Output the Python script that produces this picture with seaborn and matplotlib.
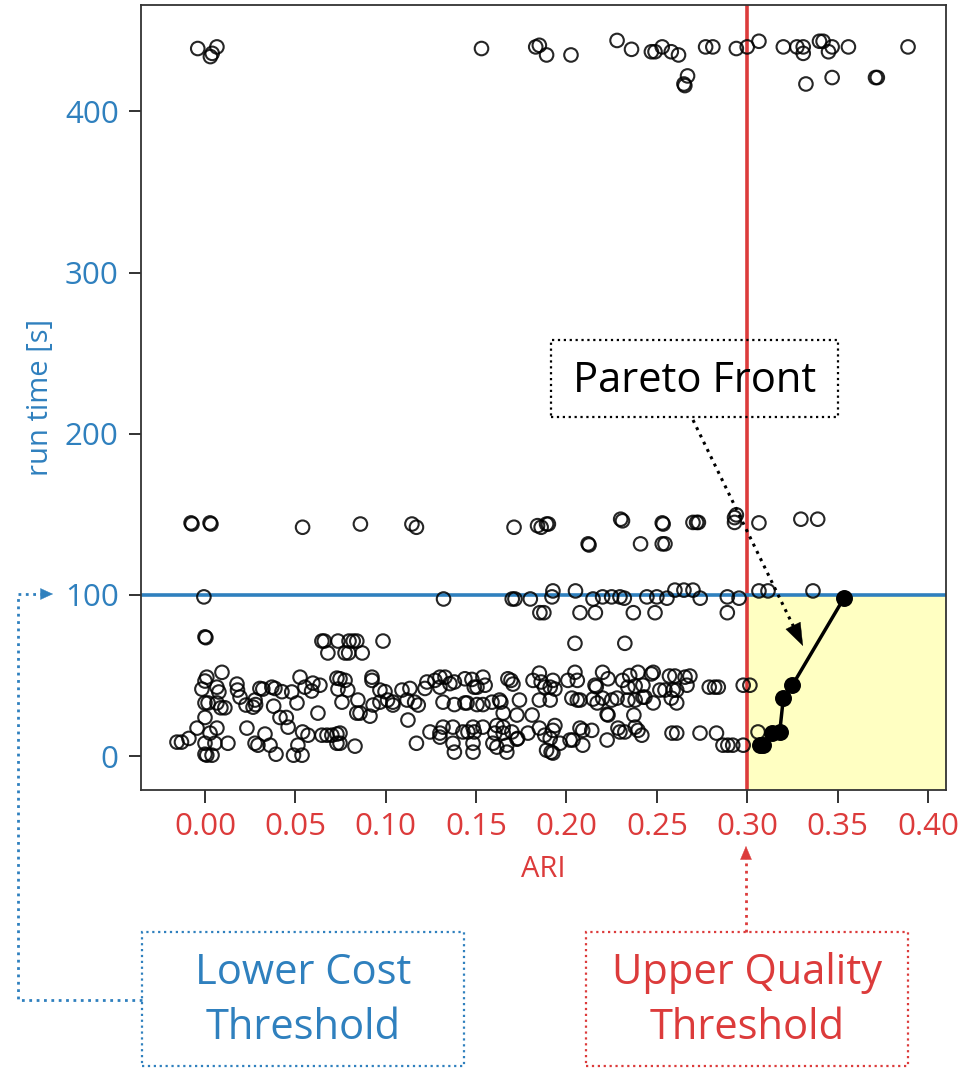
import numpy as np
import matplotlib
matplotlib.use("Agg")
import matplotlib.pyplot as plt
from matplotlib.patches import Rectangle, FancyArrowPatch
from matplotlib.lines import Line2D
import seaborn as sns

# ---------------- data ----------------
ari_top = [-0.004, 0.0066, 0.003, 0.004, 0.153, 0.183, 0.185, 0.189, 0.2025, 0.228, 0.236, 0.247, 0.249,
           0.253, 0.258, 0.262, 0.267, 0.265, 0.2655, 0.277, 0.281, 0.294, 0.300, 0.3065, 0.320, 0.3275,
           0.331, 0.331, 0.3325, 0.340, 0.342, 0.347, 0.345, 0.347, 0.356, 0.371, 0.372, 0.389]
rt_top = [439, 440, 434, 436, 439, 440, 441, 435, 435, 444, 438.5, 437, 437,
          440, 437, 435, 422, 417, 416, 440, 440, 439, 440, 443.5, 440, 440,
          440, 436, 417, 443.5, 443.5, 440, 437, 421, 440, 421, 421, 440]

ari_mid = [-0.0077, -0.0072, 0.0028, 0.0033, 0.054, 0.086, 0.1145, 0.117, 0.171, 0.184, 0.186, 0.189, 0.190,
           0.230, 0.231, 0.253, 0.2535, 0.270, 0.272, 0.273, 0.293, 0.293, 0.294, 0.3065, 0.3297, 0.339,
           0.212, 0.2125, 0.241, 0.253, 0.2545,
           -0.0006, 0.132, 0.170, 0.1715, 0.180, 0.1925, 0.192, 0.205, 0.2147, 0.220, 0.225, 0.2296, 0.232,
           0.2445, 0.250, 0.2556, 0.260, 0.265, 0.270, 0.274, 0.289, 0.2955, 0.3065, 0.3115, 0.3364,
           0.1853, 0.1875, 0.2075, 0.216, 0.237, 0.249, 0.289,
           0.0, 0.0005, 0.0647, 0.066, 0.0736, 0.0797, 0.082, 0.084, 0.0985,
           0.068, 0.0775, 0.0795, 0.087, 0.2047, 0.2323]
rt_mid = [144.7, 144, 144.7, 144, 142, 144, 144, 142, 142, 143, 142, 144, 144,
          147, 146, 144.7, 144, 145, 145, 145, 148, 145, 149.7, 144.7, 147, 147,
          131.7, 131, 131.7, 131.7, 131.7,
          98.8, 97.5, 97.5, 97.5, 97.5, 102.5, 98.8, 102.5, 97.5, 98.8, 98.8, 98.8, 98,
          98.8, 98.8, 98, 103, 103, 103, 98, 98.8, 98, 102.5, 102.5, 102.5,
          89, 89, 89, 89, 89, 89, 89,
          74, 73.5, 71.4, 71.4, 71.4, 71.4, 71.4, 71.4, 71.4,
          64, 64, 64, 64, 70, 70]

ari_low = [0.0094, 0.001, 0.0, -0.0017, 0.0066, 0.0077, 0.0, 0.0017, 0.0066, 0.0088, 0.011, 0.0, -0.0044,
           0.0028, 0.0066, -0.0155, -0.013, -0.0089, 0.0, 0.0055, 0.0127, 0.0, 0.0039, 0.001,
           0.0177, 0.018, 0.0194, 0.0227, 0.0277, 0.0266, 0.028,
           0.0232, 0.0277, 0.0293, 0.0332, 0.036, 0.0393,
           0.0304, 0.032, 0.037, 0.0387, 0.0426, 0.048, 0.0509, 0.0526, 0.0553, 0.0597, 0.059, 0.0636,
           0.0625, 0.038, 0.0415, 0.045, 0.046,
           0.0514, 0.0537, 0.049,
           0.054, 0.057, 0.0647, 0.0675, 0.0702, 0.073, 0.073, 0.073, 0.0736,
           0.0747, 0.0775, 0.079, 0.0758, 0.0846, 0.084, 0.0858, 0.0913, 0.0924, 0.0924, 0.0968, 0.0996,
           0.093, 0.0968, 0.101, 0.104, 0.104, 0.109, 0.1134, 0.1118, 0.116, 0.118, 0.1123, 0.117, 0.083,
           0.0747, 0.0747,
           0.1228, 0.1217, 0.1272, 0.130, 0.1328, 0.130, 0.1355, 0.138, 0.1317, 0.138, 0.1438, 0.1477,
           0.149, 0.1505, 0.1538, 0.155, 0.1438, 0.145, 0.1505, 0.1538, 0.1588, 0.163, 0.1637, 0.174,
           0.1676, 0.1693, 0.1704, 0.1815,
           0.165, 0.1726, 0.181,
           0.1245, 0.130, 0.130, 0.1317, 0.1372, 0.1427, 0.1455, 0.1483, 0.1538, 0.149, 0.1615, 0.165,
           0.1604, 0.165, 0.1698, 0.1726, 0.1787, 0.138, 0.1372, 0.1483, 0.1483, 0.1593, 0.1615, 0.167,
           0.167, 0.173,
           0.185, 0.186, 0.1925, 0.191, 0.1936, 0.188, 0.185, 0.191, 0.2008, 0.2047, 0.206, 0.203, 0.206,
           0.2075, 0.2158, 0.2165, 0.2147, 0.217, 0.220, 0.223, 0.220, 0.225, 0.228, 0.2225, 0.223, 0.231,
           0.234, 0.235, 0.2396, 0.238, 0.2423, 0.234, 0.238, 0.2423, 0.2434, 0.248, 0.2373, 0.248, 0.247,
           0.2517, 0.2545, 0.257, 0.260, 0.2656, 0.2683, 0.258, 0.261, 0.261, 0.259, 0.2667, 0.279, 0.282,
           0.284, 0.2978, 0.3015,
           0.185, 0.188, 0.1936, 0.1925, 0.191, 0.189, 0.1915, 0.1925, 0.1964, 0.202, 0.2036, 0.2075,
           0.209, 0.214, 0.209, 0.2225, 0.2285, 0.2296, 0.2323, 0.238, 0.2396, 0.2417, 0.2584, 0.261,
           0.2739, 0.283, 0.2866, 0.2893, 0.292, 0.2978, 0.306]
rt_low = [52, 49, 46.6, 41.6, 42.8, 39.8, 33, 33, 33, 30, 30, 24, 17.4,
          14.3, 17.4, 8.7, 8.7, 11, 8, 8, 8, 1.2, 0.6, 0.6,
          44.7, 41, 36.6, 31.7, 34.8, 30.4, 32,
          17.4, 8, 6.8, 13.7, 6.8, 1.2,
          42, 41.6, 42.8, 42, 40, 39.8, 33, 49, 42.8, 45.3, 40.4, 44,
          26.7, 31, 24, 24, 18,
          6.8, 0.6, 0.6,
          15, 13, 13, 13, 13, 13.7, 8, 48.4, 41.6,
          48, 47, 41, 33.5, 34.8, 26.7, 26.7, 24.8, 49, 47, 41, 40,
          31.7, 33.5, 34.8, 33.5, 31.7, 41, 42, 34.8, 33.5, 31.7, 22.4, 8, 6.2,
          14.3, 8,
          46, 42, 47, 49, 49, 42.8, 45, 46, 33.5, 32, 48, 47.6,
          42.8, 42.8, 49, 44, 33, 33, 32, 32, 33.5, 34.8, 33.5, 34.8,
          48, 47, 44.7, 47,
          26.7, 25.5, 25.5,
          15, 14.3, 11.8, 18, 18, 15, 15, 18, 18, 15, 19, 18,
          14.3, 14.3, 15, 10.5, 14.3, 2.5, 8, 8, 2.5, 8, 5.6, 6.8,
          2.5, 11,
          51.5, 46, 47, 42.8, 41.6, 42.8, 34.8, 34.8, 47, 52, 47, 36, 34.8,
          34.8, 44, 43, 35.4, 33, 52, 48, 36, 34.8, 36, 26, 25.5, 47,
          42.8, 50, 52, 43.5, 44, 34.8, 34.8, 36.6, 36.6, 33, 25.5, 52, 51,
          41, 41, 49.7, 49.7, 49, 49.7, 36, 33, 41, 41, 44, 42.8, 42.8,
          42.8, 44, 44,
          17.4, 13, 19, 16, 11, 3.7, 2.5, 1.9, 8, 10, 10, 17.4,
          16, 16, 6.8, 10, 17.4, 15, 15, 18, 16, 13, 14.3, 14.3,
          14.3, 14.3, 6.8, 6.8, 6.8, 6.8, 15]

ari_front = [0.307, 0.309, 0.314, 0.318, 0.320, 0.325, 0.3535]
rt_front = [6.8, 6.8, 14.3, 15, 36, 44, 98]

ari_threshold = 0.30
cost_threshold = 100

x_ticks = [0.00, 0.05, 0.10, 0.15, 0.20, 0.25, 0.30, 0.35, 0.40]
y_ticks = [0, 100, 200, 300, 400]

# ---------------- style ----------------
RED = "#dc3b3b"
BLUE = "#2f80be"
sns.set_style("ticks")
plt.rcParams["font.family"] = ["Open Sans", "DejaVu Sans"]

W, H = 960, 1068
fig = plt.figure(figsize=(W / 100, H / 100), dpi=100)
ax = fig.add_axes([141 / W, 1 - 790 / H, (946 - 141) / W, (790 - 5) / H])

xlim = (-0.0354, 0.41)
ylim = (-21, 466)

# yellow quality/cost region
ax.add_patch(Rectangle((ari_threshold, ylim[0]), xlim[1] - ari_threshold, cost_threshold - ylim[0],
                       facecolor="#ffffc2", edgecolor="none", zorder=0))

ari_all = ari_top + ari_mid + ari_low
rt_all = rt_top + rt_mid + rt_low
sns.scatterplot(x=ari_all, y=rt_all, ax=ax, marker="o", s=95, facecolor="none",
                edgecolor="black", linewidth=1.5, alpha=0.85, zorder=3)
ax.collections[-1].set_facecolor("none")

sns.lineplot(x=ari_front, y=rt_front, ax=ax, color="black", linewidth=2.5, estimator=None, zorder=4)
sns.scatterplot(x=ari_front, y=rt_front, ax=ax, color="black", s=125, edgecolor="black",
                linewidth=1, zorder=5)

ax.axvline(ari_threshold, color=RED, lw=2.6, zorder=2)
ax.axhline(cost_threshold, color=BLUE, lw=2.6, zorder=2)

ax.set_xlim(*xlim)
ax.set_ylim(*ylim)
ax.set_xticks(x_ticks)
ax.set_xticklabels([f"{v:.2f}" for v in x_ticks])
ax.set_yticks(y_ticks)
ax.set_yticklabels([str(v) for v in y_ticks])
ax.tick_params(axis="both", length=9, width=1.3, pad=7, labelsize=22.5, color="#222222")
ax.tick_params(axis="x", labelcolor=RED)
ax.tick_params(axis="y", labelcolor=BLUE)
ax.set_xlabel("ARI", color=RED, fontsize=21, labelpad=9)
ax.set_ylabel("run time [s]", color=BLUE, fontsize=21, labelpad=7)
for sp in ax.spines.values():
    sp.set_visible(True)
    sp.set_color("#333333")
    sp.set_linewidth(1.3)


def fx(px):
    return px / W


def fy(py):
    return 1 - py / H


def dotted_arrow(p0, p1, color, lw, head_px, width_px):
    """Dotted shaft from p0 to p1 (pixel coords) with a solid filled head at p1."""
    x0, y0 = p0
    x1, y1 = p1
    d = np.hypot(x1 - x0, y1 - y0)
    ux, uy = (x1 - x0) / d, (y1 - y0) / d
    fig.add_artist(Line2D([fx(x0), fx(x1 - ux * head_px * 0.9)], [fy(y0), fy(y1 - uy * head_px * 0.9)],
                          transform=fig.transFigure, color=color, linestyle=":", linewidth=lw))
    scale = 20.0
    # convert pixel sizes to points (dpi=100 -> 0.72 pt per px)
    hl = head_px * 0.72 / scale
    hw = width_px * 0.5 * 0.72 / scale
    fig.add_artist(FancyArrowPatch((fx(x1 - ux * head_px * 1.05), fy(y1 - uy * head_px * 1.05)),
                                   (fx(x1), fy(y1)), transform=fig.transFigure,
                                   arrowstyle=f"-|>,head_length={hl:.3f},head_width={hw:.3f}",
                                   mutation_scale=scale, linewidth=0.3, color=color,
                                   shrinkA=0, shrinkB=0))


# Pareto front label box + arrow
fig.add_artist(Rectangle((fx(551), fy(417)), (838 - 551) / W, (417 - 340) / H, transform=fig.transFigure,
                         fill=False, edgecolor="black", linestyle=":", linewidth=1.6))
fig.text(fx(694.5), fy(381), "Pareto Front", ha="center", va="center", fontsize=30, color="black")
dotted_arrow((693, 420), (803, 646), "black", 2.2, head_px=22, width_px=16)

# Lower cost threshold box
fig.add_artist(Rectangle((fx(142), fy(1066)), (464 - 142) / W, (1066 - 932) / H, transform=fig.transFigure,
                         fill=False, edgecolor=BLUE, linestyle=":", linewidth=1.6))
fig.text(fx(303), fy(973), "Lower Cost", ha="center", va="center", fontsize=30, color=BLUE)
fig.text(fx(303), fy(1028), "Threshold", ha="center", va="center", fontsize=30, color=BLUE)
fig.add_artist(Line2D([fx(142), fx(18), fx(18)], [fy(1000), fy(1000), fy(594)], transform=fig.transFigure,
                      color=BLUE, linestyle=":", linewidth=2))
dotted_arrow((18, 594), (53, 594), BLUE, 2, head_px=12, width_px=11)

# Upper quality threshold box
fig.add_artist(Rectangle((fx(586), fy(1066)), (908 - 586) / W, (1066 - 932) / H, transform=fig.transFigure,
                         fill=False, edgecolor=RED, linestyle=":", linewidth=1.6))
fig.text(fx(747), fy(973), "Upper Quality", ha="center", va="center", fontsize=30, color=RED)
fig.text(fx(747), fy(1028), "Threshold", ha="center", va="center", fontsize=30, color=RED)
dotted_arrow((746, 932), (746, 846), RED, 2, head_px=13, width_px=11)

fig.savefig("out.png", dpi=100)
